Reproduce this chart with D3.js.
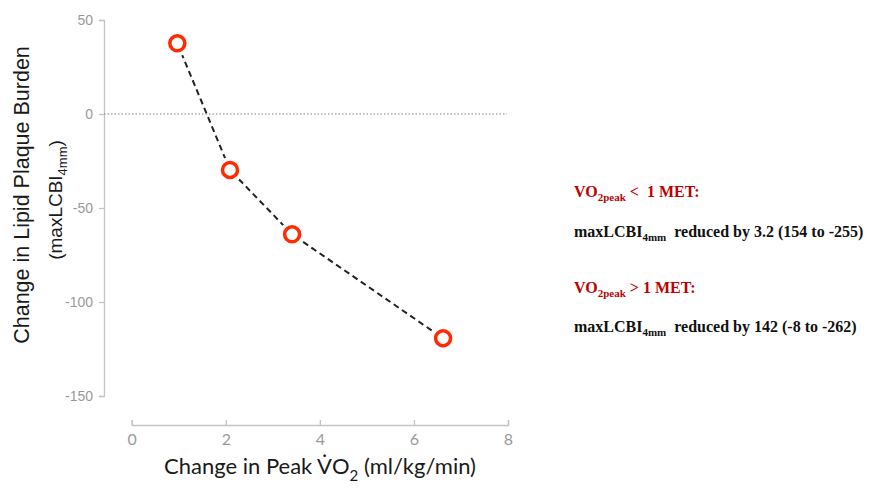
<!DOCTYPE html>
<html><head><meta charset="utf-8">
<script src="https://cdn.jsdelivr.net/npm/d3@7"></script>
<style>body{margin:0;background:#fff}svg{display:block}</style>
</head><body>
<svg id="c" width="874" height="488"></svg>
<script>
const xValues = [0.97, 2.09, 3.41, 6.62];
const yValues = [37.6, -29.8, -64.0, -119.3];
const xTicks = [0, 2, 4, 6, 8];
const yTicks = [50, 0, -50, -100, -150];

const svg = d3.select("#c");
const x = d3.scaleLinear().domain([0, 8]).range([131.7, 508]);
const y = d3.scaleLinear().domain([50, -150]).range([20, 396]);
const axisColor = "#c4c4c4", tickText = "#9a9a9a";

// y axis
const ya = svg.append("g").attr("transform", "translate(104,0)")
  .call(d3.axisLeft(y).tickValues(yTicks).tickSize(5).tickPadding(6).tickFormat(d => String(d)));
ya.select(".domain").attr("stroke", axisColor).attr("stroke-width", 1.3);
ya.selectAll(".tick line").attr("stroke", axisColor).attr("stroke-width", 1.3);
ya.selectAll(".tick text").attr("fill", tickText).attr("font-family", "Liberation Sans, Arial, sans-serif").attr("font-size", 14);

// x axis
const xa = svg.append("g").attr("transform", "translate(0,425)")
  .call(d3.axisBottom(x).tickValues(xTicks).tickSize(-5).tickPadding(9).tickFormat(d => String(d)));
xa.select(".domain").attr("stroke", axisColor).attr("stroke-width", 1.3);
xa.selectAll(".tick line").attr("stroke", axisColor).attr("stroke-width", 1.3);
xa.selectAll(".tick text").attr("fill", tickText).attr("font-family", "Lato, sans-serif").attr("font-size", 16);

// zero reference line
svg.append("line").attr("x1", 104).attr("x2", 507).attr("y1", y(0)).attr("y2", y(0))
  .attr("stroke", "#888").attr("stroke-width", 1.2).attr("stroke-dasharray", "1.5,2");

// data line
const pts = xValues.map((v, i) => [v, yValues[i]]);
svg.append("path").datum(pts)
  .attr("d", d3.line().x(d => x(d[0])).y(d => y(d[1])))
  .attr("fill", "none").attr("stroke", "#222").attr("stroke-width", 2).attr("stroke-dasharray", "6,4");

svg.selectAll("circle.bg").data(pts).join("circle").attr("class", "bg")
  .attr("cx", d => x(d[0])).attr("cy", d => y(d[1])).attr("r", 13).attr("fill", "#fff");
svg.selectAll("circle.pt").data(pts).join("circle").attr("class", "pt")
  .attr("cx", d => x(d[0])).attr("cy", d => y(d[1])).attr("r", 7.5)
  .attr("fill", "#fff").attr("stroke", "#ff2a00").attr("stroke-width", 3.5);

// y axis title
svg.append("text").attr("transform", "translate(29,195) rotate(-90)")
  .attr("text-anchor", "middle").attr("font-family", "Liberation Sans, Arial, sans-serif")
  .attr("font-size", 21.5).attr("fill", "#1a1a1a").text("Change in Lipid Plaque Burden");
const yt2 = svg.append("text").attr("transform", "translate(62,200) rotate(-90)")
  .attr("text-anchor", "middle").attr("font-family", "Liberation Sans, Arial, sans-serif")
  .attr("font-size", 19).attr("fill", "#1a1a1a");
yt2.append("tspan").text("(maxLCBI");
yt2.append("tspan").attr("font-size", 13).attr("dy", 5).text("4mm");
yt2.append("tspan").attr("dy", -5).text(")");

// x axis title
const xt = svg.append("text").attr("x", 320).attr("y", 474).attr("text-anchor", "middle")
  .attr("font-family", "Lato, sans-serif").attr("font-size", 22).attr("fill", "#1a1a1a");
xt.append("tspan").text("Change in Peak V\u0307O");
xt.append("tspan").attr("font-size", 15).attr("dy", 7).text("2");
xt.append("tspan").attr("dy", -7).text(" (ml/kg/min)");

// annotations
function redLine(yy, rest) {
  const t = svg.append("text").attr("x", 574).attr("y", yy).attr("xml:space", "preserve")
    .attr("font-family", "Liberation Serif, Times New Roman, serif").attr("font-weight", "bold")
    .attr("font-size", 16).attr("fill", "#c00000");
  t.append("tspan").text("VO");
  t.append("tspan").attr("font-size", 11).attr("dy", 4).text("2peak");
  t.append("tspan").attr("dy", -4).text(rest);
}
function blackLine(yy, rest) {
  const t = svg.append("text").attr("x", 574).attr("y", yy).attr("xml:space", "preserve")
    .attr("font-family", "Liberation Serif, Times New Roman, serif").attr("font-weight", "bold")
    .attr("font-size", 16).attr("fill", "#111");
  t.append("tspan").text("maxLCBI");
  t.append("tspan").attr("font-size", 11).attr("dy", 4).text("4mm");
  t.append("tspan").attr("dy", -4).text(rest);
}
redLine(197, " <  1 MET:");
blackLine(237, "  reduced by 3.2 (154 to -255)");
redLine(293, " > 1 MET:");
blackLine(332, "  reduced by 142 (-8 to -262)");
</script>
</body></html>
